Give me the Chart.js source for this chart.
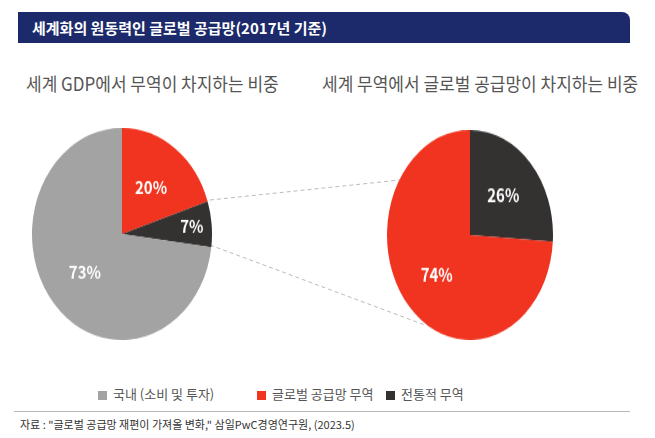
<!DOCTYPE html>
<html><head><meta charset="utf-8">
<script src="https://cdn.jsdelivr.net/npm/chart.js@4"></script>
<style>
body{margin:0;width:655px;height:438px;background:#fff;font-family:"Noto Sans CJK KR","Noto Sans",sans-serif;position:relative;overflow:hidden}
.hdr{position:absolute;left:18px;top:12px;width:612px;height:31px;background:#1c2a6b;border-radius:0 8px 0 0;color:#fff;font-weight:bold;font-size:15px;line-height:31px;padding-left:14px;box-sizing:border-box}
.sub{position:absolute;top:70px;font-size:17px;color:#555;transform:scaleY(1.1)}
.pie{position:absolute;transform-origin:top left}
.leg{position:absolute;top:384px;font-size:13px;color:#555}
.leg span{display:inline-block;width:9px;height:9px;margin-right:6px;vertical-align:middle}
.src{position:absolute;left:20px;top:416px;font-size:11px;color:#333}
.rule{position:absolute;left:14px;top:411px;width:616px;border-top:1px solid #bbb}
svg{position:absolute;left:0;top:0}
</style></head><body>
<div class="hdr">세계화의 원동력인 글로벌 공급망(2017년 기준)</div>
<div class="sub" style="left:26px">세계 GDP에서 무역이 차지하는 비중</div>
<div class="sub" style="left:322px">세계 무역에서 글로벌 공급망이 차지하는 비중</div>
<svg width="655" height="438">
<line x1="210" y1="200" x2="400" y2="180" stroke="#bbb" stroke-dasharray="4,3"/>
<line x1="210" y1="245" x2="425" y2="325" stroke="#bbb" stroke-dasharray="4,3"/>
</svg>
<div class="pie" style="left:32px;top:128px;transform:scaleY(1.178)"><canvas id="c1" width="180" height="180"></canvas></div>
<div class="pie" style="left:387px;top:130px;transform:scaleY(1.265)"><canvas id="c2" width="166" height="166"></canvas></div>
<div class="leg" style="left:98px"><span style="background:#a3a3a3"></span>국내 (소비 및 투자)</div>
<div class="leg" style="left:257px"><span style="background:#f0341f"></span>글로벌 공급망 무역</div>
<div class="leg" style="left:386px"><span style="background:#343131"></span>전통적 무역</div>
<div class="rule"></div>
<div class="src">자료 : "글로벌 공급망 재편이 가져올 변화," 삼일PwC경영연구원, (2023.5)</div>
<script>
const leftLabels = ['글로벌 공급망 무역', '전통적 무역', '국내 (소비 및 투자)'];
const leftValues = [20, 7, 73];
const leftColors = ['#f0341f', '#343131', '#a3a3a3'];
const rightLabels = ['전통적 무역', '글로벌 공급망 무역'];
const rightValues = [26, 74];
const rightColors = ['#343131', '#f0341f'];

const pctLabels = {
  id: 'pctLabels',
  afterDatasetsDraw(chart) {
    const ctx = chart.ctx;
    const ds = chart.data.datasets[0];
    chart.getDatasetMeta(0).data.forEach((arc, i) => {
      const mid = (arc.startAngle + arc.endAngle) / 2;
      const r = arc.outerRadius * (ds.data[i] < 10 ? 0.78 : 0.55);
      ctx.save();
      ctx.fillStyle = '#fff';
      ctx.font = 'bold 15px "Noto Sans CJK KR", sans-serif';
      ctx.textAlign = 'center';
      ctx.textBaseline = 'middle';
      ctx.fillText(ds.data[i] + '%', arc.x + Math.cos(mid) * r, arc.y + Math.sin(mid) * r);
      ctx.restore();
    });
  }
};

function makePie(id, labels, values, colors) {
  new Chart(document.getElementById(id), {
    type: 'pie',
    data: { labels, datasets: [{ data: values, backgroundColor: colors, borderWidth: 0 }] },
    options: {
      responsive: false, animation: false,
      plugins: { legend: { display: false }, tooltip: { enabled: false } }
    },
    plugins: [pctLabels]
  });
}
makePie('c1', leftLabels, leftValues, leftColors);
makePie('c2', rightLabels, rightValues, rightColors);
</script>
</body></html>
